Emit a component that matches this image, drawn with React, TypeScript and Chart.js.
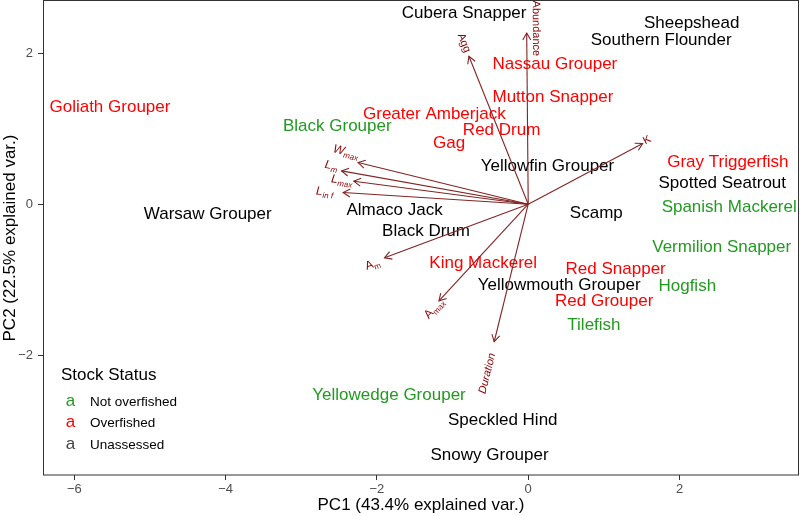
import React, { useEffect, useRef } from "react";
import { Chart, registerables } from "chart.js";

Chart.register(...registerables);

// ---- Species scores (PC1, PC2) ----
const speciesNames = [
  "Goliath Grouper", "Black Grouper", "Warsaw Grouper", "Greater Amberjack", "Red Drum", "Gag",
  "Nassau Grouper", "Mutton Snapper", "Cubera Snapper", "Sheepshead", "Southern Flounder",
  "Yellowfin Grouper", "Gray Triggerfish", "Spotted Seatrout", "Spanish Mackerel", "Scamp",
  "Vermilion Snapper", "Almaco Jack", "Black Drum", "King Mackerel", "Red Snapper",
  "Yellowmouth Grouper", "Hogfish", "Red Grouper", "Tilefish", "Yellowedge Grouper",
  "Speckled Hind", "Snowy Grouper",
];
const pc1 = [
  -5.53, -2.524, -4.237, -1.241, -0.352, -1.046,
  0.353, 0.327, -0.848, 2.161, 1.758,
  0.254, 2.639, 2.565, 2.657, 0.9,
  2.558, -1.767, -1.351, -0.595, 1.156,
  0.409, 2.103, 1.004, 0.869, -1.84,
  -0.337, -0.511,
];
const pc2 = [
  1.287, 1.036, -0.132, 1.186, 0.979, 0.803,
  1.852, 1.419, 2.53, 2.398, 2.169,
  0.507, 0.552, 0.274, -0.035, -0.123,
  -0.565, -0.079, -0.353, -0.776, -0.86,
  -1.08, -1.085, -1.292, -1.601, -2.526,
  -2.857, -3.32,
];
const stockStatus = [
  "Overfished", "Not overfished", "Unassessed", "Overfished", "Overfished", "Overfished",
  "Overfished", "Overfished", "Unassessed", "Unassessed", "Unassessed",
  "Unassessed", "Overfished", "Unassessed", "Not overfished", "Unassessed",
  "Not overfished", "Unassessed", "Unassessed", "Overfished", "Overfished",
  "Unassessed", "Not overfished", "Overfished", "Not overfished", "Not overfished",
  "Unassessed", "Unassessed",
];

const statusLevels = ["Not overfished", "Overfished", "Unassessed"];
const statusColors = ["#229A22", "#FF0000", "#000000"];
const statusKeyColors = ["#229A22", "#FF0000", "#444444"];

// ---- Variable loadings (arrows) ----
const varMain = ["Abundance", "Agg", "K", "W", "L", "L", "L", "A", "A", "Duration"];
const varSub = ["", "", "", "max", "m", "max", "in f", "m", "max", ""];
const varItalic = [false, false, false, true, true, true, true, false, false, true];
const loadPC1 = [-0.02, -0.784, 1.513, -2.249, -2.468, -2.306, -2.447, -1.9, -1.18, -0.45];
const loadPC2 = [2.266, 1.958, 0.803, 0.551, 0.441, 0.304, 0.155, -0.71, -1.28, -1.821];
const labelPC1 = [0.102, -0.851, 1.57, -2.411, -2.606, -2.464, -2.693, -2.054, -1.234, -0.54];
const labelPC2 = [2.328, 2.136, 0.847, 0.681, 0.496, 0.304, 0.152, -0.807, -1.389, -2.24];

const xTitle = "PC1 (43.4% explained var.)";
const yTitle = "PC2 (22.5% explained var.)";
const legendTitle = "Stock Status";

const FONT = "'Liberation Sans', Arial, Helvetica, sans-serif";

const biplotPlugin = {
  id: "biplotDecor",
  afterDatasetsDraw(chart: any) {
    const ctx = chart.ctx;
    const xs = chart.scales.x;
    const ys = chart.scales.y;
    // species labels
    ctx.save();
    ctx.font = `17px ${FONT}`;
    ctx.textAlign = "center";
    ctx.textBaseline = "middle";
    chart.data.datasets.forEach((ds: any, di: number) => {
      const meta = chart.getDatasetMeta(di);
      meta.data.forEach((el: any, j: number) => {
        ctx.fillStyle = ds.textColor;
        ctx.fillText(ds.names[j], el.x, el.y);
      });
    });
    ctx.restore();

    // arrows
    const ox = xs.getPixelForValue(0);
    const oy = ys.getPixelForValue(0);
    ctx.save();
    ctx.strokeStyle = "#832424";
    ctx.lineWidth = 1.1;
    for (let i = 0; i < loadPC1.length; i++) {
      const tx = xs.getPixelForValue(loadPC1[i]);
      const ty = ys.getPixelForValue(loadPC2[i]);
      ctx.beginPath();
      ctx.moveTo(ox, oy);
      ctx.lineTo(tx, ty);
      ctx.stroke();
      const a = Math.atan2(ty - oy, tx - ox);
      const hl = 8;
      const ha = Math.PI / 6;
      ctx.beginPath();
      ctx.moveTo(tx - hl * Math.cos(a - ha), ty - hl * Math.sin(a - ha));
      ctx.lineTo(tx, ty);
      ctx.lineTo(tx - hl * Math.cos(a + ha), ty - hl * Math.sin(a + ha));
      ctx.stroke();
    }
    ctx.restore();

    // variable labels
    ctx.save();
    ctx.fillStyle = "#8B0000";
    for (let i = 0; i < varMain.length; i++) {
      const lx = xs.getPixelForValue(labelPC1[i]);
      const ly = ys.getPixelForValue(labelPC2[i]);
      const rot = -Math.atan(loadPC2[i] / loadPC1[i]);
      const it = varItalic[i] ? "italic " : "";
      const hasSub = varSub[i] !== "";
      const mainFont = `${it}${hasSub ? 12 : 11}px ${FONT}`;
      const subFont = `${it}8px ${FONT}`;
      ctx.font = mainFont;
      const mw = ctx.measureText(varMain[i]).width;
      ctx.font = subFont;
      const sw = hasSub ? ctx.measureText(varSub[i]).width : 0;
      const total = mw + sw;
      ctx.save();
      ctx.translate(lx, ly);
      ctx.rotate(rot);
      ctx.textBaseline = "middle";
      ctx.textAlign = "left";
      ctx.font = mainFont;
      ctx.fillText(varMain[i], -total / 2, hasSub ? -1 : 0);
      if (hasSub) {
        ctx.font = subFont;
        ctx.fillText(varSub[i], -total / 2 + mw, 3);
      }
      ctx.restore();
    }
    ctx.restore();
  },
  afterDraw(chart: any) {
    const ctx = chart.ctx;
    const ca = chart.chartArea;
    ctx.save();
    // panel border
    ctx.strokeStyle = "#333333";
    ctx.lineWidth = 1;
    ctx.strokeRect(Math.round(ca.left) + 0.5, Math.round(ca.top) - 0.5, Math.round(ca.right - ca.left) - 1, Math.round(ca.bottom - ca.top) + 0.5);

    // axis titles
    ctx.fillStyle = "#000000";
    ctx.font = `17px ${FONT}`;
    ctx.textAlign = "center";
    ctx.textBaseline = "middle";
    ctx.fillText(xTitle, (ca.left + ca.right) / 2, 505);
    ctx.save();
    ctx.translate(10, (ca.top + ca.bottom) / 2);
    ctx.rotate(-Math.PI / 2);
    ctx.fillText(yTitle, 0, 0);
    ctx.restore();

    // legend
    ctx.textAlign = "left";
    ctx.font = `17px ${FONT}`;
    ctx.fillStyle = "#000000";
    ctx.fillText(legendTitle, 61, 375);
    const rows = [402.7, 423.5, 445];
    statusLevels.forEach((lvl, i) => {
      ctx.font = `17px ${FONT}`;
      ctx.textAlign = "center";
      ctx.fillStyle = statusKeyColors[i];
      ctx.fillText("a", 70.5, rows[i] - 1);
      ctx.textAlign = "left";
      ctx.font = `13.5px ${FONT}`;
      ctx.fillStyle = "#000000";
      ctx.fillText(lvl, 90, rows[i]);
    });
    ctx.restore();
  },
};

export default function App() {
  const ref = useRef<HTMLCanvasElement | null>(null);
  useEffect(() => {
    if (!ref.current) return;
    const datasets = statusLevels.map((lvl, si) => {
      const idx = speciesNames.map((_, i) => i).filter((i) => stockStatus[i] === lvl);
      return {
        label: lvl,
        data: idx.map((i) => ({ x: pc1[i], y: pc2[i] })),
        names: idx.map((i) => speciesNames[i]),
        textColor: statusColors[si],
        pointRadius: 0,
        pointHoverRadius: 0,
        showLine: false,
      } as any;
    });
    const fmt = (v: any) => String(v).replace("-", "\u2212");
    const chart = new Chart(ref.current, {
      type: "scatter",
      data: { datasets },
      options: {
        responsive: false,
        animation: false,
        events: [],
        layout: { padding: { left: 0, right: 1, top: 1, bottom: 0 } },
        plugins: { legend: { display: false }, tooltip: { enabled: false } },
        scales: {
          x: {
            type: "linear",
            min: -6.415,
            max: 3.58,
            afterFit: (s: any) => { s.height = 41; s.paddingLeft = 0; s.paddingRight = 0; },
            border: { display: false },
            grid: { drawOnChartArea: false, drawTicks: true, tickLength: 5, color: "#333333", tickWidth: 1 },
            ticks: { stepSize: 2, includeBounds: false, color: "#4D4D4D", font: { size: 13, family: FONT }, padding: 2, callback: fmt },
          },
          y: {
            type: "linear",
            min: -3.585,
            max: 2.69,
            afterFit: (s: any) => { s.width = 43; s.paddingTop = 0; s.paddingBottom = 0; },
            border: { display: false },
            grid: { drawOnChartArea: false, drawTicks: true, tickLength: 5, color: "#333333", tickWidth: 1 },
            ticks: { stepSize: 2, includeBounds: false, color: "#4D4D4D", font: { size: 13, family: FONT }, padding: 5, callback: fmt },
          },
        },
      } as any,
      plugins: [biplotPlugin],
    });
    return () => chart.destroy();
  }, []);
  return (
    <div style={{ position: "fixed", left: 0, top: 0, width: 800, height: 516, background: "#ffffff" }}>
      <canvas ref={ref} width={800} height={516} style={{ width: 800, height: 516, display: "block" }} />
    </div>
  );
}
